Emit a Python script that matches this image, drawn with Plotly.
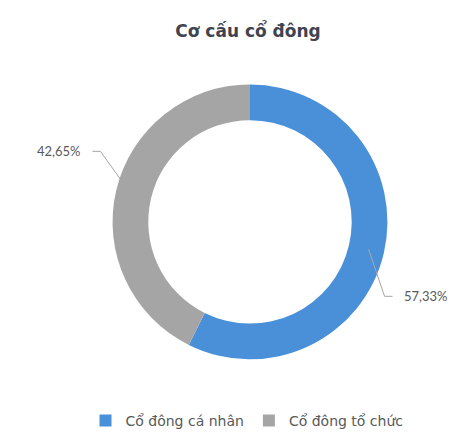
import math
import plotly.graph_objects as go

# ---- data ----
categories = ["Cổ đông cá nhân", "Cổ đông tổ chức"]
values = [57.33, 42.65]
value_labels = ["57,33%", "42,65%"]
title_text = "Cơ cấu cổ đông"

# ---- style ----
W, H = 461, 437
colors = ["#4a90d9", "#a5a5a5"]
text_color = "#595959"
font_family = "Lato, 'Open Sans', sans-serif"
wide_font = "'DejaVu Sans', sans-serif"

# pie geometry in pixels
cx, cy, R = 250, 226, 140
hole = 0.74
dom_x = [(cx - R) / W, (cx + R) / W]
dom_y = [1 - (cy + R) / H, 1 - (cy - R) / H]

fig = go.Figure()
fig.add_trace(go.Pie(
    labels=categories,
    values=values,
    hole=hole,
    sort=False,
    direction="clockwise",
    rotation=0,
    marker=dict(colors=colors, line=dict(width=0)),
    textinfo="none",
    hoverinfo="label+percent",
    domain=dict(x=dom_x, y=dom_y),
    showlegend=True,
))

# leader lines + labels (elbow offsets are style, start derived from data)
offsets = [  # (dx elbow, dy elbow, horizontal length, side)
    (16, 48, 8, 1),
    (-31, -44, 8, -1),
]
total = sum(values)
cum = 0.0
shapes, annotations = [], []
rmid = R * (1 + hole) / 2
for v, lab, (dx, dy, hl, side) in zip(values, value_labels, offsets):
    mid = (cum + v / 2) / total * 2 * math.pi
    cum += v
    x0 = cx + rmid * math.sin(mid)
    y0 = cy - rmid * math.cos(mid)
    x1, y1 = x0 + dx, y0 + dy
    x2 = x1 + side * hl
    path = f"M {x0/W} {1-y0/H} L {x1/W} {1-y1/H} L {x2/W} {1-y1/H}"
    shapes.append(dict(type="path", path=path, xref="paper", yref="paper",
                       line=dict(color="#a6a6a6", width=1)))
    annotations.append(dict(
        x=(x2 + side * 9) / W, y=1 - y1 / H, xref="paper", yref="paper",
        text=lab, showarrow=False,
        xanchor="left" if side > 0 else "right", yanchor="middle",
        font=dict(size=13, color=text_color, family=font_family),
    ))

fig.update_layout(
    width=W, height=H,
    margin=dict(l=0, r=0, t=0, b=0),
    paper_bgcolor="white",
    plot_bgcolor="white",
    title=dict(text=f"<b>{title_text}</b>", x=248 / W, xanchor="center",
               y=1 - 31 / H, yanchor="middle",
               font=dict(size=17, color="#3f4450", family=wide_font)),
    legend=dict(orientation="h", x=247 / W, xanchor="center",
                y=1 - 429 / H, yanchor="middle",
                font=dict(size=14, color=text_color, family=wide_font),
                itemwidth=30, traceorder="normal"),
    shapes=shapes,
    annotations=annotations,
)

fig.write_html("out.html")
